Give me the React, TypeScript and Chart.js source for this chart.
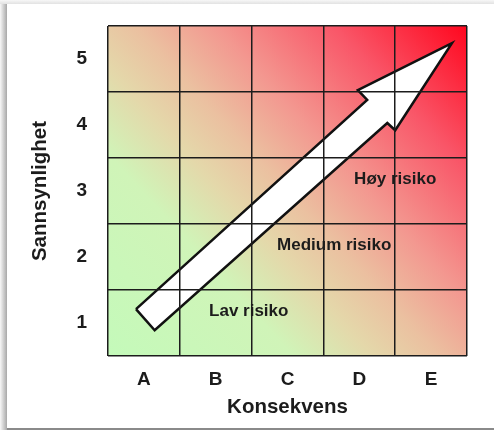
import React, { useEffect, useRef } from "react";
import { Chart, registerables } from "chart.js";

Chart.register(...registerables);

// Axis categories
const consequenceLabels = ["A", "B", "C", "D", "E"];
const probabilityLabels = ["1", "2", "3", "4", "5"];

// Arrow outline (data coordinates: x 0..5 = A..E columns, y 0..5 = rows 1..5)
const arrowX = [0.39, 3.61, 3.48, 4.79, 4.0, 3.89, 0.65, 0.39];
const arrowY = [0.71, 3.88, 4.03, 4.74, 3.42, 3.53, 0.39, 0.71];

// Risk zone labels
const zoneLabels = ["Lav risiko", "Medium risiko", "Høy risiko"];
const zoneX = [1.96, 3.15, 4.0];
const zoneY = [0.68, 1.67, 2.68];

const FONT = "'Liberation Sans', Arial, Helvetica, sans-serif";
const INK = "#1c1c1c";

const gradientPlugin = {
  id: "riskGradient",
  beforeDraw(chart: any) {
    const { ctx, chartArea } = chart;
    const { left, right, top, bottom } = chartArea;
    const g = ctx.createLinearGradient(left, bottom, right, top);
    g.addColorStop(0, "rgb(196,250,186)");
    g.addColorStop(0.28, "rgb(208,244,184)");
    g.addColorStop(0.4, "rgb(228,216,170)");
    g.addColorStop(0.5, "rgb(235,192,160)");
    g.addColorStop(0.62, "rgb(243,152,144)");
    g.addColorStop(0.8, "rgb(249,86,104)");
    g.addColorStop(1, "rgb(255,6,30)");
    ctx.save();
    ctx.fillStyle = g;
    ctx.fillRect(left, top, right - left, bottom - top);
    ctx.restore();
  },
};

const zoneLabelPlugin = {
  id: "zoneLabels",
  afterDraw(chart: any) {
    const { ctx, scales } = chart;
    ctx.save();
    ctx.font = `bold 17px ${FONT}`;
    ctx.fillStyle = INK;
    ctx.textAlign = "center";
    ctx.textBaseline = "middle";
    zoneLabels.forEach((t, i) => {
      ctx.fillText(t, scales.x.getPixelForValue(zoneX[i]), scales.y.getPixelForValue(zoneY[i]));
    });
    ctx.restore();
  },
};

const halfTicks = (scale: any) => {
  const t = [];
  for (let v = 0; v <= 5; v += 0.5) t.push({ value: v });
  scale.ticks = t;
};

const gridColor = (ctx: any) =>
  ctx.tick && Number.isInteger(ctx.tick.value) ? INK : "rgba(0,0,0,0)";

export default function App() {
  const ref = useRef<HTMLCanvasElement>(null);

  useEffect(() => {
    if (!ref.current) return;
    const chart = new Chart(ref.current, {
      type: "line",
      data: {
        datasets: [
          {
            data: arrowX.map((x, i) => ({ x, y: arrowY[i] })),
            borderColor: "#111",
            borderWidth: 2.5,
            backgroundColor: "#ffffff",
            fill: "shape",
            pointRadius: 0,
            tension: 0,
            borderJoinStyle: "miter",
          } as any,
        ],
      },
      options: {
        animation: false,
        responsive: false,
        events: [],
        layout: { padding: { top: 26, right: 27, left: 0, bottom: 0 } },
        plugins: { legend: { display: false }, tooltip: { enabled: false } },
        scales: {
          x: {
            type: "linear",
            min: 0,
            max: 5,
            afterBuildTicks: halfTicks,
            afterFit: (s: any) => {
              s.height = 74;
              s.paddingLeft = 0;
              s.paddingRight = 0;
            },
            grid: { color: gridColor, lineWidth: 1.5, drawTicks: false, z: 1 },
            border: { display: false },
            ticks: {
              autoSkip: false,
              maxRotation: 0,
              padding: 12,
              color: INK,
              font: { family: FONT, size: 19, weight: "bold" },
              callback: (v: any) => {
                const n = Number(v);
                return Number.isInteger(n) ? "" : consequenceLabels[Math.floor(n)];
              },
            },
            title: {
              display: true,
              text: "Konsekvens",
              color: INK,
              font: { family: FONT, size: 20.5, weight: "bold" },
              padding: { top: 0, bottom: 10 },
            },
          },
          y: {
            type: "linear",
            min: 0,
            max: 5,
            afterBuildTicks: halfTicks,
            afterFit: (s: any) => {
              s.width = 108;
              s.paddingTop = 0;
              s.paddingBottom = 0;
            },
            grid: { color: gridColor, lineWidth: 1.5, drawTicks: false, z: 1 },
            border: { display: false },
            ticks: {
              autoSkip: false,
              padding: 21,
              color: INK,
              font: { family: FONT, size: 19, weight: "bold" },
              callback: (v: any) => {
                const n = Number(v);
                return Number.isInteger(n) ? "" : probabilityLabels[Math.floor(n)];
              },
            },
            title: {
              display: true,
              text: "Sannsynlighet",
              color: INK,
              font: { family: FONT, size: 20.5, weight: "bold" },
              padding: { top: 28, bottom: 0 },
            },
          },
        },
      } as any,
      plugins: [gradientPlugin, zoneLabelPlugin],
    });
    return () => chart.destroy();
  }, []);

  return (
    <div
      style={{
        position: "fixed",
        left: 0,
        top: 0,
        width: 494,
        height: 430,
        background: "#fff",
        overflow: "hidden",
      }}
    >
      <div
        style={{
          position: "absolute",
          left: 0,
          top: 0,
          width: 494,
          height: 4,
          background: "linear-gradient(#f7f7f7, #e2e2e2)",
        }}
      />
      <div
        style={{
          position: "absolute",
          left: 0,
          top: 4,
          width: 7,
          height: 426,
          background: "linear-gradient(to right, #f8f8f8, #a8a8a8)",
        }}
      />
      <div
        style={{
          position: "absolute",
          left: 7,
          top: 428,
          width: 487,
          height: 2,
          background: "#8a8a8a",
        }}
      />
      <canvas
        ref={ref}
        width={494}
        height={430}
        style={{ position: "absolute", left: 0, top: 0, width: 494, height: 430 }}
      />
    </div>
  );
}
